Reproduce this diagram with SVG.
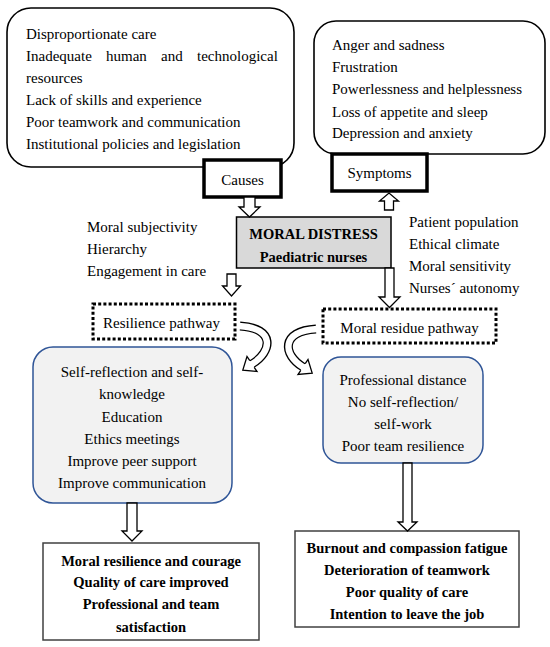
<svg xmlns="http://www.w3.org/2000/svg" width="550" height="647" viewBox="0 0 550 647">
<style>
text{font-family:"Liberation Serif","Times New Roman","DejaVu Serif",serif;font-size:15px;fill:#000}
.b{font-weight:bold;font-size:14.5px}
.c{text-anchor:middle}
.rb{fill:#fff;stroke:#000;stroke-width:1.6}
.lb{fill:#fff;stroke:#000;stroke-width:3.5}
.dot{fill:#fff;stroke:#000;stroke-width:3;stroke-dasharray:3 2.2}
.blue{fill:#f2f2f2;stroke:#2f5597;stroke-width:1.5}
.out{fill:#fff;stroke:#404040;stroke-width:1.5}
.arr{fill:#fff;stroke:#000;stroke-width:1.3;stroke-linejoin:miter}
.cs{fill:none;stroke:#000;stroke-width:9}
.ci{fill:none;stroke:#fff;stroke-width:6.4}
</style>
<rect width="550" height="647" fill="#fff"/>

<g id="causes-list">
<rect class="rb" x="7" y="8" width="287" height="159" rx="24"/>
<text x="26" y="39">Disproportionate care</text>
<text y="61"><tspan x="26">Inadequate</tspan><tspan x="106">human</tspan><tspan x="161">and</tspan><tspan x="197">technological</tspan></text>
<text x="26" y="83">resources</text>
<text x="26" y="105">Lack of skills and experience</text>
<text x="26" y="127">Poor teamwork and communication</text>
<text x="26" y="149">Institutional policies and legislation</text>
</g>
<g id="causes">
<rect class="lb" x="204" y="160" width="77" height="37"/>
<text class="c" x="242.5" y="185">Causes</text>
</g>

<g id="symptoms-list">
<rect class="rb" x="314" y="21" width="231" height="133" rx="22"/>
<text x="332" y="50">Anger and sadness</text>
<text x="332" y="72">Frustration</text>
<text x="332" y="94">Powerlessness and helplessness</text>
<text x="332" y="117">Loss of appetite and sleep</text>
<text x="332" y="138">Depression and anxiety</text>
</g>
<g id="symptoms">
<rect class="lb" x="332" y="154" width="95" height="37"/>
<text class="c" x="379.5" y="178">Symptoms</text>
</g>

<g id="moral-distress">
<rect x="236.5" y="217" width="154.5" height="51" fill="#d9d9d9" stroke="#000" stroke-width="1.5"/>
<text class="c b" x="313.5" y="239">MORAL DISTRESS</text>
<text class="c b" x="313.5" y="262">Paediatric nurses</text>
</g>

<g id="left-factors">
<text x="87" y="232">Moral subjectivity</text>
<text x="87" y="254">Hierarchy</text>
<text x="87" y="276">Engagement in care</text>
</g>
<g id="right-factors">
<text x="409" y="227">Patient population</text>
<text x="409" y="249">Ethical climate</text>
<text x="409" y="271">Moral sensitivity</text>
<text x="409" y="293">Nurses´ autonomy</text>
</g>

<g id="resilience-pathway">
<rect class="dot" x="93" y="304" width="142" height="35"/>
<text class="c" x="161.5" y="328">Resilience pathway</text>
</g>
<g id="moral-residue-pathway">
<rect class="dot" x="323" y="309" width="173" height="34"/>
<text class="c" x="409.5" y="333">Moral residue pathway</text>
</g>

<g id="resilience-actions">
<rect class="blue" x="33" y="347" width="199" height="156" rx="20"/>
<text class="c" x="132" y="377">Self-reflection and self-</text>
<text class="c" x="132" y="399">knowledge</text>
<text class="c" x="132" y="422">Education</text>
<text class="c" x="132" y="444">Ethics meetings</text>
<text class="c" x="132" y="466">Improve peer support</text>
<text class="c" x="132" y="488">Improve communication</text>
</g>
<g id="residue-factors">
<rect class="blue" x="323" y="357" width="160" height="106" rx="18"/>
<text class="c" x="403" y="385">Professional distance</text>
<text class="c" x="403" y="407">No self-reflection/</text>
<text class="c" x="403" y="429">self-work</text>
<text class="c" x="403" y="451">Poor team resilience</text>
</g>

<g id="resilience-outcomes">
<rect class="out" x="43" y="543" width="216" height="97"/>
<text class="c b" x="151" y="566">Moral resilience and courage</text>
<text class="c b" x="151" y="587">Quality of care improved</text>
<text class="c b" x="151" y="609">Professional and team</text>
<text class="c b" x="151" y="632">satisfaction</text>
</g>
<g id="residue-outcomes">
<rect class="out" x="295" y="531" width="224" height="96"/>
<text class="c b" x="407" y="553">Burnout and compassion fatigue</text>
<text class="c b" x="407" y="575">Deterioration of teamwork</text>
<text class="c b" x="407" y="597">Poor quality of care</text>
<text class="c b" x="407" y="619">Intention to leave the job</text>
</g>

<g id="connectors">
<polygon class="arr" points="244,197 255,197 255,207 260,207 249.5,217 239,207 244,207"/>
<polygon class="arr" points="384.5,210 393.5,210 393.5,201 398.5,201 389,193 379.5,201 384.5,201"/>
<polygon class="arr" points="227,274 236,274 236,286 240.5,286 231.5,296 222.5,286 227,286"/>
<polygon class="arr" points="385,268 394,268 394,297 400,297 389.5,307.5 379,297 385,297"/>
<polygon class="arr" points="127,503 137,503 137,531 142,531 132,541 122,531 127,531"/>
<polygon class="arr" points="403,463 412,463 412,522 417,522 407.5,531 398,522 403,522"/>

<path class="cs" d="M240,326 C276,328 272,352 252,364"/>
<path class="ci" d="M239,326 C276,328 272,352 252,364 l-1.2,0.8"/>
<polyline class="arr" points="254.2,367.3 257,371.5 242.8,370.1 247,356.5 249.8,360.7"/>

<path class="cs" d="M316,329 C280,331 283,355 303,367"/>
<path class="ci" d="M317,329 C280,331 283,355 303,367 l1.2,0.8"/>
<polyline class="arr" points="300.8,370.3 298,374.5 312.2,373.1 308,359.5 305.2,363.7"/>
</g>
</svg>
